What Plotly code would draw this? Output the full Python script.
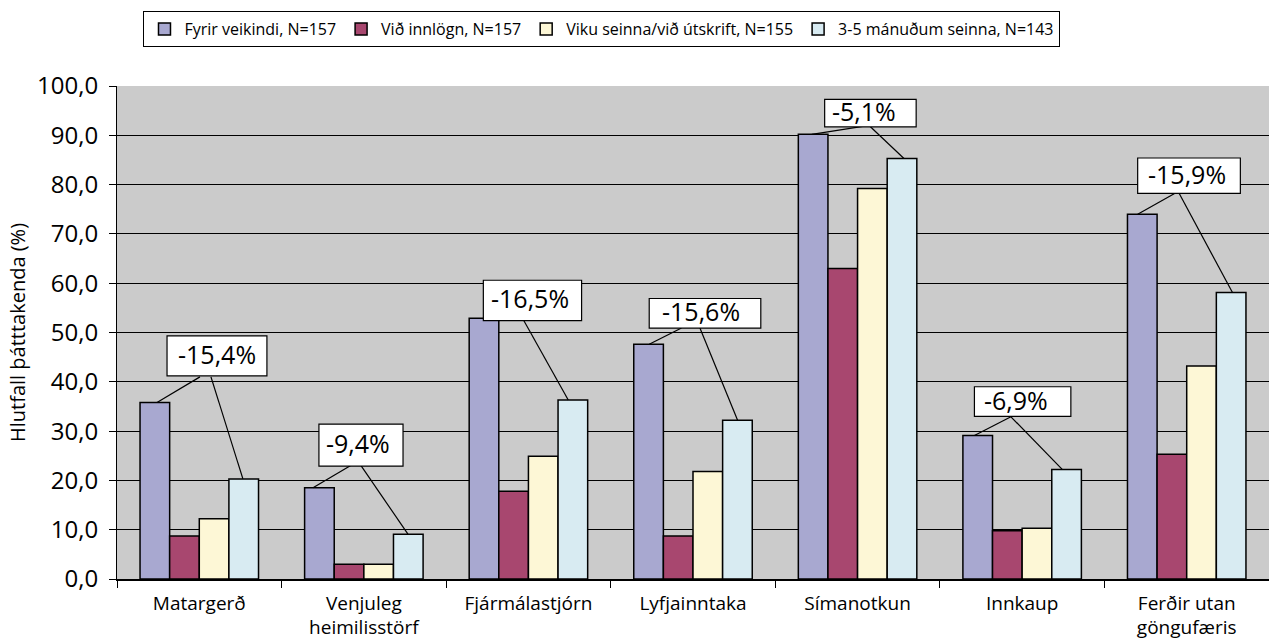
import plotly.graph_objects as go

categories = ["Matargerð", "Venjuleg<br>heimilisstörf", "Fjármálastjórn", "Lyfjainntaka",
              "Símanotkun", "Innkaup", "Ferðir utan<br>göngufæris"]
series_names = ["Fyrir veikindi, N=157", "Við innlögn, N=157",
                "Viku seinna/við útskrift, N=155", "3-5 mánuðum seinna, N=143"]
fyrir = [35.8, 18.5, 52.9, 47.6, 90.2, 29.1, 74.0]
vid_innlogn = [8.7, 3.0, 17.8, 8.7, 63.0, 9.8, 25.3]
viku_seinna = [12.2, 3.0, 24.9, 21.8, 79.2, 10.3, 43.2]
manudum_seinna = [20.3, 9.1, 36.3, 32.2, 85.3, 22.2, 58.1]
change_labels = ["-15,4%", "-9,4%", "-16,5%", "-15,6%", "-5,1%", "-6,9%", "-15,9%"]
y_ticks = [0, 10, 20, 30, 40, 50, 60, 70, 80, 90, 100]

colors = ["#A8A8D0", "#A8476F", "#FDF7D6", "#D8EBF2"]
series = [fyrir, vid_innlogn, viku_seinna, manudum_seinna]

fig = go.Figure()
for name, vals, col in zip(series_names, series, colors):
    fig.add_trace(go.Bar(
        x=categories, y=vals, name=name,
        marker=dict(color=col, line=dict(color="black", width=1.5)),
    ))

# label box layout, relative to category centre:
# (box left, box right, box bottom, box top, text start,
#  apex1 dx, apex1 y, end1 dx, apex2 dx, apex2 y, end2 dx)
box_layout = [
    (-0.196, 0.411, 41.2, 49.3, -0.140, 0.004, 41.0, -0.257, 0.071, 41.0, 0.265),
    (-0.273, 0.238, 22.9, 31.4, -0.240, -0.036, 23.9, -0.309, -0.036, 23.9, 0.268),
    (-0.274, 0.323, 52.4, 60.6, -0.238, -0.041, 53.2, -0.264, -0.041, 53.2, 0.242),
    (-0.266, 0.412, 50.9, 56.9, -0.200, -0.070, 50.9, -0.266, 0.042, 50.9, 0.271),
    (-0.200, 0.356, 91.7, 97.3, -0.165, 0.070, 92.0, -0.278, 0.070, 92.0, 0.282),
    (-0.290, 0.296, 33.0, 39.0, -0.242, -0.068, 32.9, -0.290, -0.068, 32.9, 0.245),
    (-0.298, 0.326, 78.2, 85.4, -0.250, -0.052, 78.6, -0.298, -0.052, 78.6, 0.278),
]
for k, (lab, lay) in enumerate(zip(change_labels, box_layout)):
    bl, br, bb, bt, tx, a1x, a1y, e1x, a2x, a2y, e2x = lay
    fig.add_shape(type="line", xref="x", yref="y",
                  x0=k + a1x, y0=a1y, x1=k + e1x, y1=fyrir[k],
                  line=dict(color="black", width=1.2))
    fig.add_shape(type="line", xref="x", yref="y",
                  x0=k + a2x, y0=a2y, x1=k + e2x, y1=manudum_seinna[k],
                  line=dict(color="black", width=1.2))
    fig.add_shape(type="rect", xref="x", yref="y",
                  x0=k + bl, x1=k + br, y0=bb, y1=bt,
                  fillcolor="white", line=dict(color="black", width=1.2))
    fig.add_annotation(x=k + tx, y=(bb + bt) / 2 + 0.4, xref="x", yref="y", text=lab,
                       showarrow=False, xanchor="left", yanchor="middle",
                       font=dict(family="Open Sans", size=25, color="black"))

fig.update_layout(
    width=1269, height=642,
    barmode="group", bargap=0.28, bargroupgap=0,
    separators=",.",
    paper_bgcolor="white", plot_bgcolor="#CBCBCB",
    margin=dict(l=117, r=0, t=86, b=63),
    font=dict(family="Open Sans", color="black"),
    legend=dict(orientation="h", x=0.421, xanchor="center", y=1.152, yanchor="top",
                bordercolor="black", borderwidth=1, bgcolor="white",
                font=dict(family="Open Sans", size=16), itemwidth=30,
                tracegroupgap=0),
    showlegend=True,
)
fig.update_yaxes(range=[0, 100], tickvals=y_ticks, tickformat=".1f",
                 showgrid=True, gridcolor="black", gridwidth=1,
                 showline=True, linecolor="black", linewidth=1,
                 ticks="outside", ticklen=7, tickcolor="black",
                 tickfont=dict(size=24), ticklabelstandoff=6,
                 title=dict(text="Hlutfall þátttakenda (%)", font=dict(size=20), standoff=6),
                 zeroline=False)
fig.update_xaxes(showgrid=False, showline=True, linecolor="black", linewidth=1.5,
                 ticks="outside", tickson="boundaries", ticklen=7, tickcolor="black",
                 tickfont=dict(size=19), ticklabelstandoff=6)

fig.write_html("out.html", config={"displayModeBar": False},
               post_script="document.body.style.margin='0';")
